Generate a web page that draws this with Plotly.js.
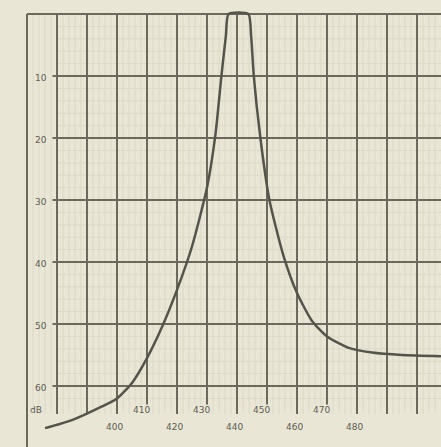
<!DOCTYPE html>
<html>
<head>
<meta charset="utf-8">
<script src="https://cdn.plot.ly/plotly-3.0.1.min.js"></script>
<style>html,body{margin:0;padding:0;background:#e9e6d5;}#chart{width:441px;height:447px;}</style>
</head>
<body>
<div id="chart"></div>
<script>
// Frequency (MHz) vs attenuation (dB)
const freq = [376, 385, 395, 400, 405, 410, 415, 420, 425, 430, 432.8, 434.8, 436.3, 437.2, 443.8, 444.7, 445.6, 447.8, 450.8, 455.5, 460, 465, 470, 477, 485, 495, 508];
const atten = [66.8, 65.5, 63.3, 62, 59.5, 55.5, 50.5, 44.5, 37.5, 28, 19.5, 10, 3.5, 0, 0, 3.5, 10, 20, 30, 39, 45, 49.5, 52, 53.8, 54.6, 55, 55.2];

const xGridMajor = [370, 380, 390, 400, 410, 420, 430, 440, 450, 460, 470, 480, 490, 500];
const yGridMajor = [10, 20, 30, 40, 50, 60];
const yTickLabels = ["10", "20", "30", "40", "50", "60"];
const yTickVals = [10, 20, 30, 40, 50, 60];
const xLabelsLow = ["400", "420", "440", "460", "480"];
const xValsLow = [400, 420, 440, 460, 480];
const xLabelsHigh = ["410", "430", "450", "470"];
const xValsHigh = [410, 430, 450, 470];
const unitLabel = "dB";

const X0 = 361, X1 = 508, Y0 = -2.26, Y1 = 69.84;
const gridColor = '#6b695b';
const minorColor = '#dcd8c6';
const textColor = '#5e5c50';

const shapes = [];
// faint minor graph-paper lines
for (let f = 372; f < X1; f += 2) {
  if (f % 10 === 0) continue;
  shapes.push({type:'line', xref:'x', yref:'y', x0:f, x1:f, y0:0, y1:64.5, line:{color:minorColor, width:1}, layer:'below'});
}
for (let v = 2; v < 64; v += 2) {
  if (v % 10 === 0) continue;
  shapes.push({type:'line', xref:'x', yref:'y', x0:380, x1:X1, y0:v, y1:v, line:{color:minorColor, width:1}, layer:'below'});
}
// major verticals
xGridMajor.forEach((f, i) => {
  shapes.push({type:'line', xref:'x', yref:'y', x0:f, x1:f, y0:0, y1:(i === 0 ? Y1 : 64.5), line:{color:gridColor, width:2}, layer:'below'});
});
// top border
shapes.push({type:'line', xref:'x', yref:'y', x0:370, x1:X1, y0:0, y1:0, line:{color:gridColor, width:2}, layer:'below'});
// major horizontals (start at second vertical; first column holds the labels)
yGridMajor.forEach(v => {
  shapes.push({type:'line', xref:'x', yref:'y', x0:378.5, x1:X1, y0:v, y1:v, line:{color:gridColor, width:2}, layer:'below'});
});

const annotations = [];
const tf = {family:'DejaVu Sans', size:9, color:textColor};
yTickVals.forEach((v, i) => {
  annotations.push({x:374.5, y:v + 0.3, xref:'x', yref:'y', text:yTickLabels[i], showarrow:false,
    font:tf, xanchor:'center', yanchor:'middle'});
});
annotations.push({x:373, y:63.9, xref:'x', yref:'y', text:unitLabel, showarrow:false,
  font:tf, xanchor:'center', yanchor:'middle'});
xValsLow.forEach((f, i) => {
  annotations.push({x:f - 1, y:66.6, xref:'x', yref:'y', text:xLabelsLow[i], showarrow:false,
    font:tf, xanchor:'center', yanchor:'middle'});
});
xValsHigh.forEach((f, i) => {
  annotations.push({x:f - 2, y:63.9, xref:'x', yref:'y', text:xLabelsHigh[i], showarrow:false,
    font:tf, xanchor:'center', yanchor:'middle', bgcolor:'#e9e6d5', borderpad:0});
});

const trace = {
  x: freq, y: atten, type:'scatter', mode:'lines',
  line:{color:'#55544a', width:2.5, shape:'spline', smoothing:0.6},
  hoverinfo:'skip'
};

Plotly.newPlot('chart', [trace], {
  width:441, height:447,
  margin:{l:0, r:0, t:0, b:0, pad:0},
  paper_bgcolor:'#e9e6d5', plot_bgcolor:'#e9e6d5',
  showlegend:false,
  xaxis:{range:[X0, X1], visible:false, fixedrange:true},
  yaxis:{range:[Y1, Y0], visible:false, fixedrange:true},
  shapes:shapes, annotations:annotations
}, {displayModeBar:false, staticPlot:true});
</script>
</body>
</html>
